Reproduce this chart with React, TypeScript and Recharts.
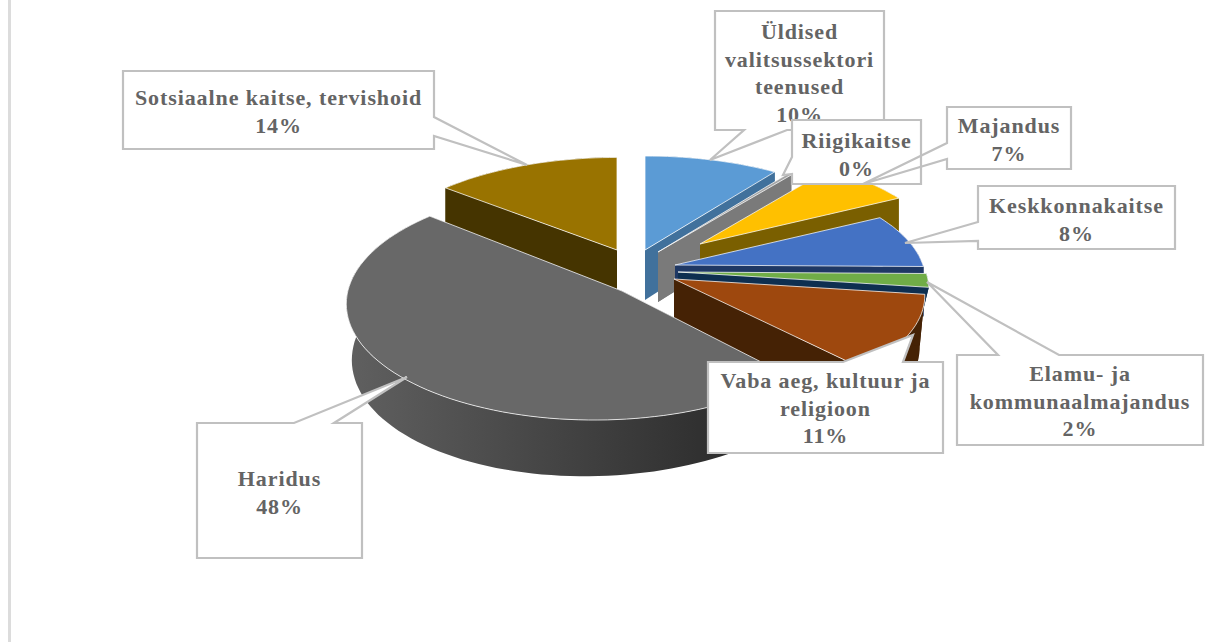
import React from 'react';
import { PieChart, Pie } from 'recharts';

const categories = [
  'Sotsiaalne kaitse, tervishoid',
  'Üldised valitsussektori teenused',
  'Riigikaitse',
  'Majandus',
  'Keskkonnakaitse',
  'Elamu- ja kommunaalmajandus',
  'Vaba aeg, kultuur ja religioon',
  'Haridus',
];
const shares = [14, 10, 0.3, 7, 8, 2, 11, 48];

const labelLines = [
  ['Sotsiaalne kaitse, tervishoid'],
  ['Üldised', 'valitsussektori', 'teenused'],
  ['Riigikaitse'],
  ['Majandus'],
  ['Keskkonnakaitse'],
  ['Elamu- ja', 'kommunaalmajandus'],
  ['Vaba aeg, kultuur ja', 'religioon'],
  ['Haridus'],
];

const topColors = ['#997300', '#5b9bd5', '#a5a5a5', '#ffc000', '#4472c4', '#70ad47', '#9e480e', '#686868'];
const wallColors = ['#453400', '#41719c', '#7a7a7a', '#7a5f00', '#1f3864', '#0e2f50', '#452205', 'url(#haridusWall)'];

// how far each slice is pulled out of the pie
const explode = [
  [-23, -20], [5, -20], [18, -18], [60, -26], [35, -5], [38, 2], [34, 9], [-18, 21],
];
// look of each slice: vertical squash, front perspective, side perspective, radius scale, wall bottom scale
const tilt = [
  [0.4355, 0.149, 0, 0.985, 1],
  [0.4355, 0.149, 0, 1, 1],
  [0.4355, 0.149, 0, 1, 1],
  [0.4355, 0.149, 0, 0.97, 1],
  [0.4355, 0.149, 0, 1, 1],
  [0.4355, 0.149, 0, 1, 0.95],
  [0.4355, 0.149, 0, 1, 0.98],
  [0.468, 0.1, 0.1, 0.995, 0.98],
];
const DEPTH = 50;

// callout boxes, the pointer runs clockwise round the box on the side it leaves from
const boxes = [
  { x: 123, y: 71, w: 311, h: 78, textY: 105, side: 'right', ptr: [[434, 117], [527, 165], [434, 136]] },
  { x: 715, y: 11, w: 169, h: 119, textY: 39, side: 'bottom', ptr: [[787, 130], [710, 160], [744, 130]] },
  { x: 792, y: 120, w: 129, h: 64, textY: 148, side: 'left', ptr: [[792, 174], [783, 175], [792, 157]] },
  { x: 947, y: 107, w: 124, h: 62, textY: 133, side: 'left', ptr: [[947, 159], [863, 184], [947, 143]], thin: true },
  { x: 978, y: 186, w: 197, h: 63, textY: 213, side: 'left', ptr: [[978, 241], [905, 243], [978, 222]] },
  { x: 957, y: 355, w: 246, h: 90, textY: 381, side: 'top', ptr: [[998, 355], [927, 282], [1059, 355]] },
  { x: 708, y: 362, w: 235, h: 91, textY: 388, side: 'top', ptr: [[843, 362], [913, 335], [903, 362]] },
  { x: 197, y: 423, w: 165, h: 135, textY: 486, side: 'top', ptr: [[294, 423], [407, 377], [334, 423]] },
];

const pieData = categories.map((name, i) => ({ name, value: shares[i], idx: i }));

const SliceShape = (props: any) => {
  const { cx, cy, outerRadius, startAngle, endAngle, payload } = props;
  const i = payload.idx;
  const [squash, front, side, scale, wallScale] = tilt[i];
  const ox = cx + explode[i][0];
  const oy = cy + explode[i][1];
  const radius = outerRadius * scale;

  const project = (deg: number, isBottom: boolean) => {
    const a = (deg * Math.PI) / 180;
    const u = Math.cos(a);
    const v = -Math.sin(a);
    const w = 1 - front * v + side * u;
    const x = (radius * u) / w;
    const y = (radius * squash * v) / w;
    return isBottom ? [ox + x * wallScale, oy + y + DEPTH / w] : [ox + x, oy + y];
  };
  const arc = (isBottom: boolean) => {
    const pts = [];
    const n = Math.max(2, Math.ceil(Math.abs(startAngle - endAngle) / 2));
    for (let k = 0; k <= n; k++) {
      pts.push(project(startAngle + ((endAngle - startAngle) * k) / n, isBottom));
    }
    return pts;
  };
  const toPath = (pts: number[][]) =>
    'M' + pts.map((p) => p[0].toFixed(1) + ',' + p[1].toFixed(1)).join('L') + 'Z';

  const top = arc(false);
  const bottom = arc(true);
  const wall = wallColors[i];
  const faceColor = i === 7 ? '#2e2e2e' : wall;

  return (
    <g>
      <path d={toPath([...top, ...bottom.slice().reverse()])} fill={wall} />
      <path d={toPath([[ox, oy], top[0], bottom[0], [ox, oy + DEPTH]])} fill={faceColor} />
      <path d={toPath([[ox, oy], top[top.length - 1], bottom[bottom.length - 1], [ox, oy + DEPTH]])} fill={faceColor} />
      <path d={toPath([[ox, oy], ...top])} fill={topColors[i]} stroke="#ffffff" strokeWidth={1} strokeOpacity={0.75} />
    </g>
  );
};

const Callout = (props: any) => {
  const i = props.payload ? props.payload.idx : props.index;
  const b = boxes[i];
  const tl = [b.x, b.y];
  const tr = [b.x + b.w, b.y];
  const br = [b.x + b.w, b.y + b.h];
  const bl = [b.x, b.y + b.h];
  const outline = [
    tl,
    ...(b.side === 'top' ? b.ptr : []),
    tr,
    ...(b.side === 'right' ? b.ptr : []),
    br,
    ...(b.side === 'bottom' ? b.ptr : []),
    bl,
    ...(b.side === 'left' ? b.ptr : []),
  ];
  const d = 'M' + outline.map((p) => p.join(',')).join('L') + 'Z';
  const lines = [...labelLines[i], `${Math.round((props.percent ?? 0) * 100)}%`];
  return (
    <g>
      {b.thin && <rect x={b.x} y={b.y} width={b.w} height={b.h} fill="#ffffff" />}
      <path d={d} fill={b.thin ? 'none' : '#ffffff'} stroke="#c0c0c0" strokeWidth={2.2} />
      <text
        x={b.x + b.w / 2}
        y={b.textY}
        textAnchor="middle"
        fontFamily="'Liberation Serif', serif"
        fontWeight="bold"
        fontSize={22}
        letterSpacing={0.9}
        fill="#646464"
      >
        {lines.map((line, k) => (
          <tspan key={k} x={b.x + b.w / 2} dy={k === 0 ? 0 : 27.5}>
            {line}
          </tspan>
        ))}
      </text>
    </g>
  );
};

export default function App() {
  return (
    <div style={{ position: 'absolute', left: 0, top: 0, width: 1223, height: 642, background: '#ffffff', overflow: 'hidden' }}>
      <div style={{ position: 'absolute', left: 8, top: 0, width: 3, height: 642, background: '#dcdcdc' }} />
      <PieChart width={1223} height={642} margin={{ top: 0, right: 0, bottom: 0, left: 0 }}>
        <defs>
          <linearGradient id="haridusWall" gradientUnits="userSpaceOnUse" x1="347" y1="0" x2="780" y2="0">
            <stop offset="0" stopColor="#606060" />
            <stop offset="1" stopColor="#262626" />
          </linearGradient>
        </defs>
        <Pie
          data={pieData}
          dataKey="value"
          nameKey="name"
          cx={640}
          cy={270}
          outerRadius={248}
          startAngle={140.25}
          endAngle={-219.75}
          stroke="none"
          isAnimationActive={false}
          labelLine={false}
          label={Callout}
          shape={SliceShape}
        />
      </PieChart>
    </div>
  );
}
